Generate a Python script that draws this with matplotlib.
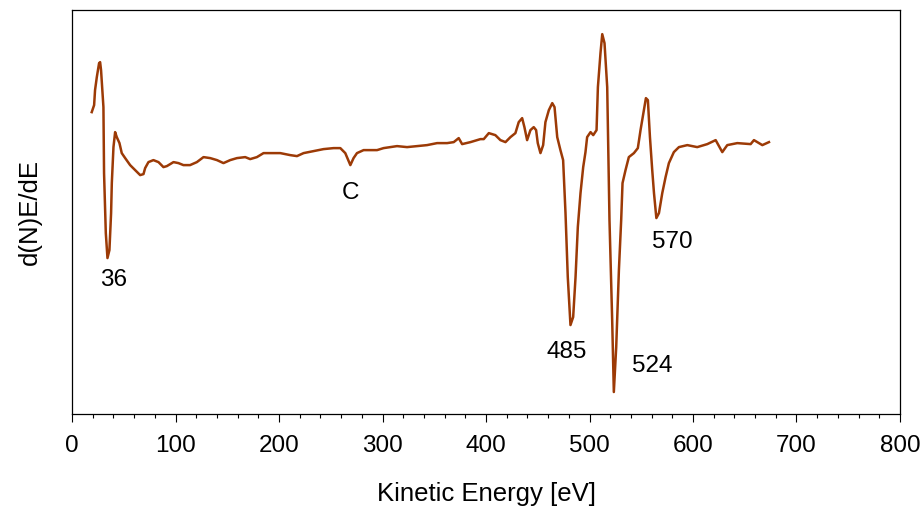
import matplotlib
matplotlib.use('Agg')
import matplotlib.pyplot as plt
from matplotlib.ticker import MultipleLocator

plt.rcParams['font.family'] = ['Liberation Sans', 'DejaVu Sans']

# Auger spectrum, derivative mode (y in arbitrary units)
energy = [19.0, 21.3, 22.2, 23.9, 26.1, 27.1, 28.0, 30.3, 30.9, 32.6, 34.2,
          36.1, 37.7, 38.4, 40.0, 41.6, 43.2, 45.8, 48.0, 51.3, 56.1, 60.9,
          65.8, 69.0, 70.6, 73.8, 78.6, 83.5, 88.3, 91.6, 98.0, 102.8, 107.6,
          114.0, 120.6, 127.0, 133.5, 140.0, 146.3, 152.8, 159.3, 167.3,
          172.1, 178.6, 185.0, 191.5, 201.2, 210.8, 217.3, 223.7, 233.4,
          243.0, 252.7, 259.2, 264.0, 268.9, 272.0, 275.3, 281.7, 294.7,
          301.0, 307.5, 314.0, 323.7, 333.4, 343.0, 352.7, 362.4, 368.8,
          373.6, 376.9, 385.0, 394.6, 397.8, 402.7, 409.0, 413.9, 418.8,
          423.6, 428.4, 431.6, 434.9, 437.1, 439.7, 442.9, 446.1, 448.4,
          450.0, 452.6, 455.2, 457.4, 460.7, 464.0, 466.2, 468.8, 471.9,
          474.5, 476.8, 479.0, 481.6, 484.2, 486.5, 488.7, 491.3, 493.9,
          496.1, 497.7, 501.0, 503.6, 506.8, 508.1, 510.6, 512.3, 514.5,
          517.1, 519.3, 521.9, 523.5, 525.8, 528.4, 530.6, 531.9, 534.8,
          538.0, 542.9, 546.7, 549.3, 552.5, 554.5, 556.4, 558.4, 560.6,
          562.3, 564.6, 567.1, 570.3, 573.5, 576.7, 581.5, 586.4, 594.5,
          604.1, 613.8, 621.9, 628.3, 633.1, 642.8, 655.7, 658.9, 667.0,
          673.4]
signal = [302, 309, 324, 337, 351, 352, 344, 307, 241, 181, 156,
          164, 201, 231, 267, 282, 277, 271, 261, 256, 249, 244,
          239, 240, 246, 252, 254, 252, 247, 248, 252, 251, 249,
          249, 252, 257, 256, 254, 251, 254, 256, 257,
          255, 257, 261, 261, 261, 259, 258, 261, 263,
          265, 266, 266, 261, 249, 256, 261, 264, 264,
          266, 267, 268, 267, 268, 269, 271, 271, 272,
          276, 270, 272, 275, 275, 281, 279, 274, 272,
          277, 281, 292, 296, 287, 274, 284, 287, 284,
          271, 261, 269, 292, 304, 311, 307, 277, 264,
          254, 201, 137, 89, 97, 137, 187, 221, 247,
          262, 277, 282, 279, 284, 327, 361, 380, 371,
          327, 194, 94, 22, 67, 144, 194, 231, 244,
          257, 261, 266, 284, 304, 316, 314, 277, 244,
          221, 196, 201, 221, 237, 251, 262, 267, 269,
          267, 270, 274, 262, 269, 271, 270, 274, 269,
          272]

peak_labels = ['36', 'C', '485', '524', '570']
label_x = [39.7, 268.9, 477.8, 561.0, 580.0]
label_y = [134, 221, 62, 48, 172]

fig = plt.figure(figsize=(9.24, 5.08), dpi=100)
ax = fig.add_axes([0.078, 0.185, 0.896, 0.795])
ax.plot(energy, signal, color='#9C3A06', linewidth=1.8)

for txt, x, y in zip(peak_labels, label_x, label_y):
    ax.text(x, y, txt, fontsize=17.5, ha='center', va='center')

ax.set_xlim(0, 800)
ax.set_ylim(0, 404)
ax.xaxis.set_major_locator(MultipleLocator(100))
ax.xaxis.set_minor_locator(MultipleLocator(20))
ax.set_yticks([])
ax.tick_params(axis='x', which='major', direction='out', length=6,
               width=0.8, labelsize=17.5, pad=9)
ax.tick_params(axis='x', which='minor', direction='out', length=3, width=0.8)
for sp in ax.spines.values():
    sp.set_linewidth(0.9)
ax.set_xlabel('Kinetic Energy [eV]', fontsize=18.5, labelpad=18)
ax.set_ylabel('d(N)E/dE', fontsize=18.5, labelpad=22)

fig.savefig('out.png', dpi=100)
